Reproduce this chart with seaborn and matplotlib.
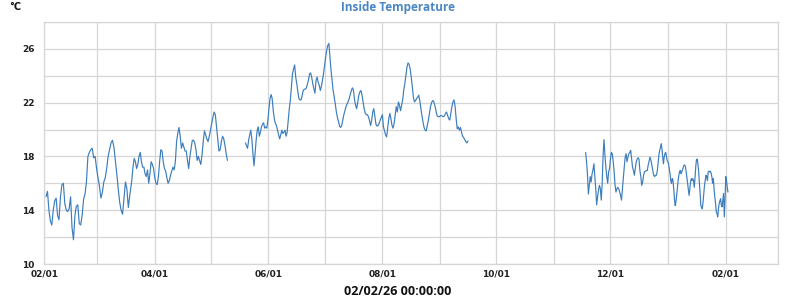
import numpy as np
import pandas as pd
import matplotlib
matplotlib.use("Agg")
import matplotlib.pyplot as plt
import matplotlib.dates as mdates
from matplotlib.ticker import FixedLocator
import seaborn as sns

# ---------------- data ----------------
title = "Inside Temperature"
unit_label = "°C"
time_label = "02/02/26 00:00:00"
x_start, x_end = "2025-02-01", "2026-03-01"
y_min, y_max = 10, 28
y_label_ticks = [10, 14, 18, 22, 26]
y_grid_ticks = [12, 16, 20, 24, 28]

seg1a_span = ("2025-02-01 22:00", "2025-03-18 18:00")
seg1a_vals = [15.0, 15.4, 14.0, 13.2, 12.9, 14.0, 14.7, 14.9, 13.6, 13.3,
              15.0, 15.9, 16.0, 14.5, 14.0, 13.9, 14.1, 15.0, 12.7, 11.8,
              13.6, 14.3, 14.4, 13.0, 12.9, 13.6, 14.8, 15.2, 16.1, 18.0,
              18.3, 18.5, 18.6, 17.9, 18.0, 17.1, 16.4, 15.8, 14.9, 15.3,
              16.1, 16.4, 17.1, 18.0, 18.5, 19.0, 19.2, 18.7, 17.7, 16.7,
              15.6, 14.6, 14.0, 13.7, 14.9, 16.1, 15.6, 14.2, 15.1]

seg1b_span = ("2025-03-19 19:40", "2025-05-10 00:45")
seg1b_vals = [16.2, 17.2, 17.85, 17.6, 17.1, 17.4, 18.0, 18.3, 17.6, 17.2,
              17.2, 16.7, 16.5, 17.0, 16.0, 16.7, 17.6, 17.4, 17.1, 16.4,
              16.0, 15.9, 16.5, 17.6, 18.5, 18.4, 17.6, 17.1, 16.9, 16.4,
              16.0, 16.2, 16.6, 16.9, 17.2, 17.0, 17.6, 19.1, 19.7, 20.15,
              19.5, 18.6, 19.0, 18.7, 18.4, 18.4, 17.7, 17.1, 18.0, 18.6,
              19.2, 19.2, 19.0, 18.5, 17.7, 18.0, 17.7, 17.4, 18.1, 19.1,
              19.9, 19.6, 19.3, 19.1, 19.5, 19.95, 20.45, 20.9, 21.3, 21.1,
              20.2, 19.3, 18.4, 18.5, 19.1, 19.5, 19.3, 18.8, 18.2, 17.7]

seg2_span = ("2025-05-19 16:00", "2025-09-15 19:00")
seg2_vals = [19.0, 18.8, 18.6, 19.2, 19.6, 19.95, 19.3, 18.2, 17.3, 18.2,
             19.2, 19.95, 20.2, 19.5, 19.8, 20.2, 20.4, 20.5, 20.1, 20.2,
             20.1, 20.7, 21.55, 22.3, 22.6, 22.3, 21.4, 20.8, 20.45, 20.3,
             19.95, 19.6, 19.3, 19.6, 19.95, 19.7, 19.8, 19.95, 19.5, 19.8,
             20.7, 21.55, 22.2, 23.2, 24.15, 24.5, 24.8, 23.9, 23.4, 22.8,
             22.3, 22.2, 22.2, 22.5, 22.9, 23.0, 23.0, 23.1, 23.4, 23.7,
             24.15, 24.2, 23.85, 23.4, 23.0, 22.7, 23.65, 23.9, 23.5, 23.3,
             22.9, 23.2, 23.65, 24.15, 24.8, 25.4, 25.9, 26.25, 26.4,
             25.4, 24.4, 23.65, 22.9, 22.4, 21.9, 21.3, 20.9, 20.6, 20.25,
             20.15, 20.3, 20.7, 21.1, 21.4, 21.7, 21.9, 22.05, 22.3, 22.6,
             22.9, 23.1, 22.9, 22.2, 21.8, 21.55, 22.05, 22.55, 22.8, 22.9,
             22.55, 22.05, 21.55, 21.2, 21.1, 21.1, 20.95, 20.65, 20.3, 20.7,
             21.3, 21.55, 20.95, 20.4, 20.25, 20.3, 20.45, 20.7, 20.9, 21.1,
             20.2, 19.9, 19.6, 19.45, 20.1, 20.8, 21.2, 20.8, 20.3, 20.1,
             20.45, 21.1, 21.7, 21.3, 22.05, 21.8, 21.4, 21.8, 22.2, 22.95,
             23.4, 24.0, 24.65, 24.95, 24.85, 24.5, 23.9, 23.15, 22.4, 22.05,
             22.15, 22.3, 22.4, 22.55, 22.15, 21.55, 21.05, 20.55, 20.15, 19.95,
             19.9, 20.3, 20.7, 21.2, 21.7, 22.0, 22.15, 22.1, 21.8, 21.45,
             21.05, 20.95, 20.95, 21.0, 21.05, 21.0, 20.95, 21.0, 21.2, 21.3,
             21.05, 20.8, 20.7, 21.2, 21.7, 22.05, 22.2, 21.7, 20.8, 20.05,
             20.2, 19.95, 20.15, 19.8, 19.5, 19.4, 19.25, 19.1, 19.0, 19.15]

seg3a_span = ("2025-11-17 19:00", "2025-12-26 05:00")
seg3a_vals = [18.3, 17.6, 16.7, 15.2, 15.85, 16.5, 16.1, 16.7, 17.0, 17.45,
              16.5, 15.6, 14.4, 15.0, 15.5, 15.85, 15.6, 14.75, 16.0, 18.1,
              19.25, 18.1, 17.2, 16.5, 16.0, 16.85, 17.1, 17.8, 18.3, 18.2,
              17.6, 16.85, 15.85, 15.35, 15.6, 15.7, 15.6, 15.35, 15.1, 14.75,
              15.6, 16.35, 17.2, 17.95, 18.2, 17.6, 17.95, 18.2, 18.3, 18.45,
              17.8, 17.2, 16.95, 16.6, 17.1, 17.6, 17.8, 17.9, 17.8, 16.95,
              16.5, 15.85, 16.1, 16.6, 16.85, 16.9, 16.95, 16.95, 17.35, 17.65,
              17.95, 17.7, 17.35, 16.95, 16.6, 16.5, 16.6, 16.6, 16.95]

seg3b_span = ("2025-12-26 17:00", "2026-02-02 00:00")
seg3b_vals = [17.7, 18.2, 18.45, 18.7, 18.95, 18.55, 17.95, 17.45, 17.95, 18.2,
              18.3, 18.05, 17.7, 17.6, 17.45, 17.1, 16.7, 16.2, 16.0, 16.35,
              16.2, 15.6, 14.85, 14.35, 14.6, 15.1, 15.6, 16.2, 16.6, 16.85,
              16.95, 16.7, 16.85, 17.0, 17.2, 17.35, 17.35, 17.25, 16.85, 16.5,
              16.0, 15.5, 15.1, 15.6, 16.1, 16.35, 16.2, 16.35, 16.2, 15.7,
              16.35, 17.2, 17.75, 17.8, 17.45, 16.85, 16.1, 15.25, 14.35, 14.2,
              14.1, 14.6, 15.25, 15.85, 16.2, 16.6, 16.5, 16.2, 16.85, 16.9,
              16.85, 16.9, 16.75, 16.5, 16.0, 16.35, 15.6, 15.0, 14.55, 13.9,
              13.75, 13.5, 14.1, 14.5, 14.7, 14.85, 14.35, 14.25, 14.75, 15.25,
              13.5, 14.75, 16.5, 16.2, 15.7, 15.35]

# ---------------- styling ----------------
line_color = "#3b7dbd"
title_color = "#4a87c4"
grid_color = "#d6d6d6"


def piece(span, vals):
    t = pd.date_range(span[0], span[1], periods=len(vals))
    return pd.DataFrame({"time": t, "temp": vals})


segments = [
    pd.concat([piece(seg1a_span, seg1a_vals), piece(seg1b_span, seg1b_vals)], ignore_index=True),
    piece(seg2_span, seg2_vals),
    pd.concat([piece(seg3a_span, seg3a_vals), piece(seg3b_span, seg3b_vals)], ignore_index=True),
]

sns.set_theme(style="white")
plt.rcParams["font.family"] = ["DejaVu Sans"]

fig, ax = plt.subplots(figsize=(8, 3), dpi=100)
fig.subplots_adjust(left=0.0554, right=0.973, bottom=0.12, top=0.927)

for df in segments:
    sns.lineplot(data=df, x="time", y="temp", ax=ax, color=line_color,
                 linewidth=0.85, estimator=None, sort=False)

ax.set_xlim(pd.Timestamp(x_start), pd.Timestamp(x_end))
ax.set_ylim(y_min, y_max)

ax.yaxis.set_major_locator(FixedLocator(y_label_ticks))
ax.yaxis.set_minor_locator(FixedLocator(y_grid_ticks))
ax.xaxis.set_major_locator(mdates.MonthLocator(bymonth=[2, 4, 6, 8, 10, 12]))
ax.xaxis.set_minor_locator(mdates.MonthLocator())
ax.xaxis.set_major_formatter(mdates.DateFormatter("%m/%d"))

ax.grid(True, which="both", color=grid_color, linewidth=0.9)
ax.set_axisbelow(True)
for s in ax.spines.values():
    s.set_color(grid_color)
    s.set_linewidth(0.9)

ax.tick_params(axis="both", which="both", length=0)
ax.tick_params(axis="y", pad=7, labelsize=6.5)
ax.tick_params(axis="x", pad=4, labelsize=6.5)
for lab in ax.get_xticklabels() + ax.get_yticklabels():
    lab.set_fontweight("bold")
    lab.set_color("#222222")

ax.set_xlabel("")
ax.set_ylabel("")

fig.text(0.4975, 0.975, title, ha="center", va="center", color=title_color,
         fontsize=8.5, fontweight="bold", family=["Open Sans", "DejaVu Sans"])
fig.text(0.012, 0.978, unit_label, ha="left", va="center", color="#111111",
         fontsize=7, fontweight="bold")
fig.text(0.4975, 0.027, time_label, ha="center", va="center", color="#111111",
         fontsize=9, fontweight="bold", family=["Open Sans", "DejaVu Sans"])

fig.savefig("out.png", dpi=100)
